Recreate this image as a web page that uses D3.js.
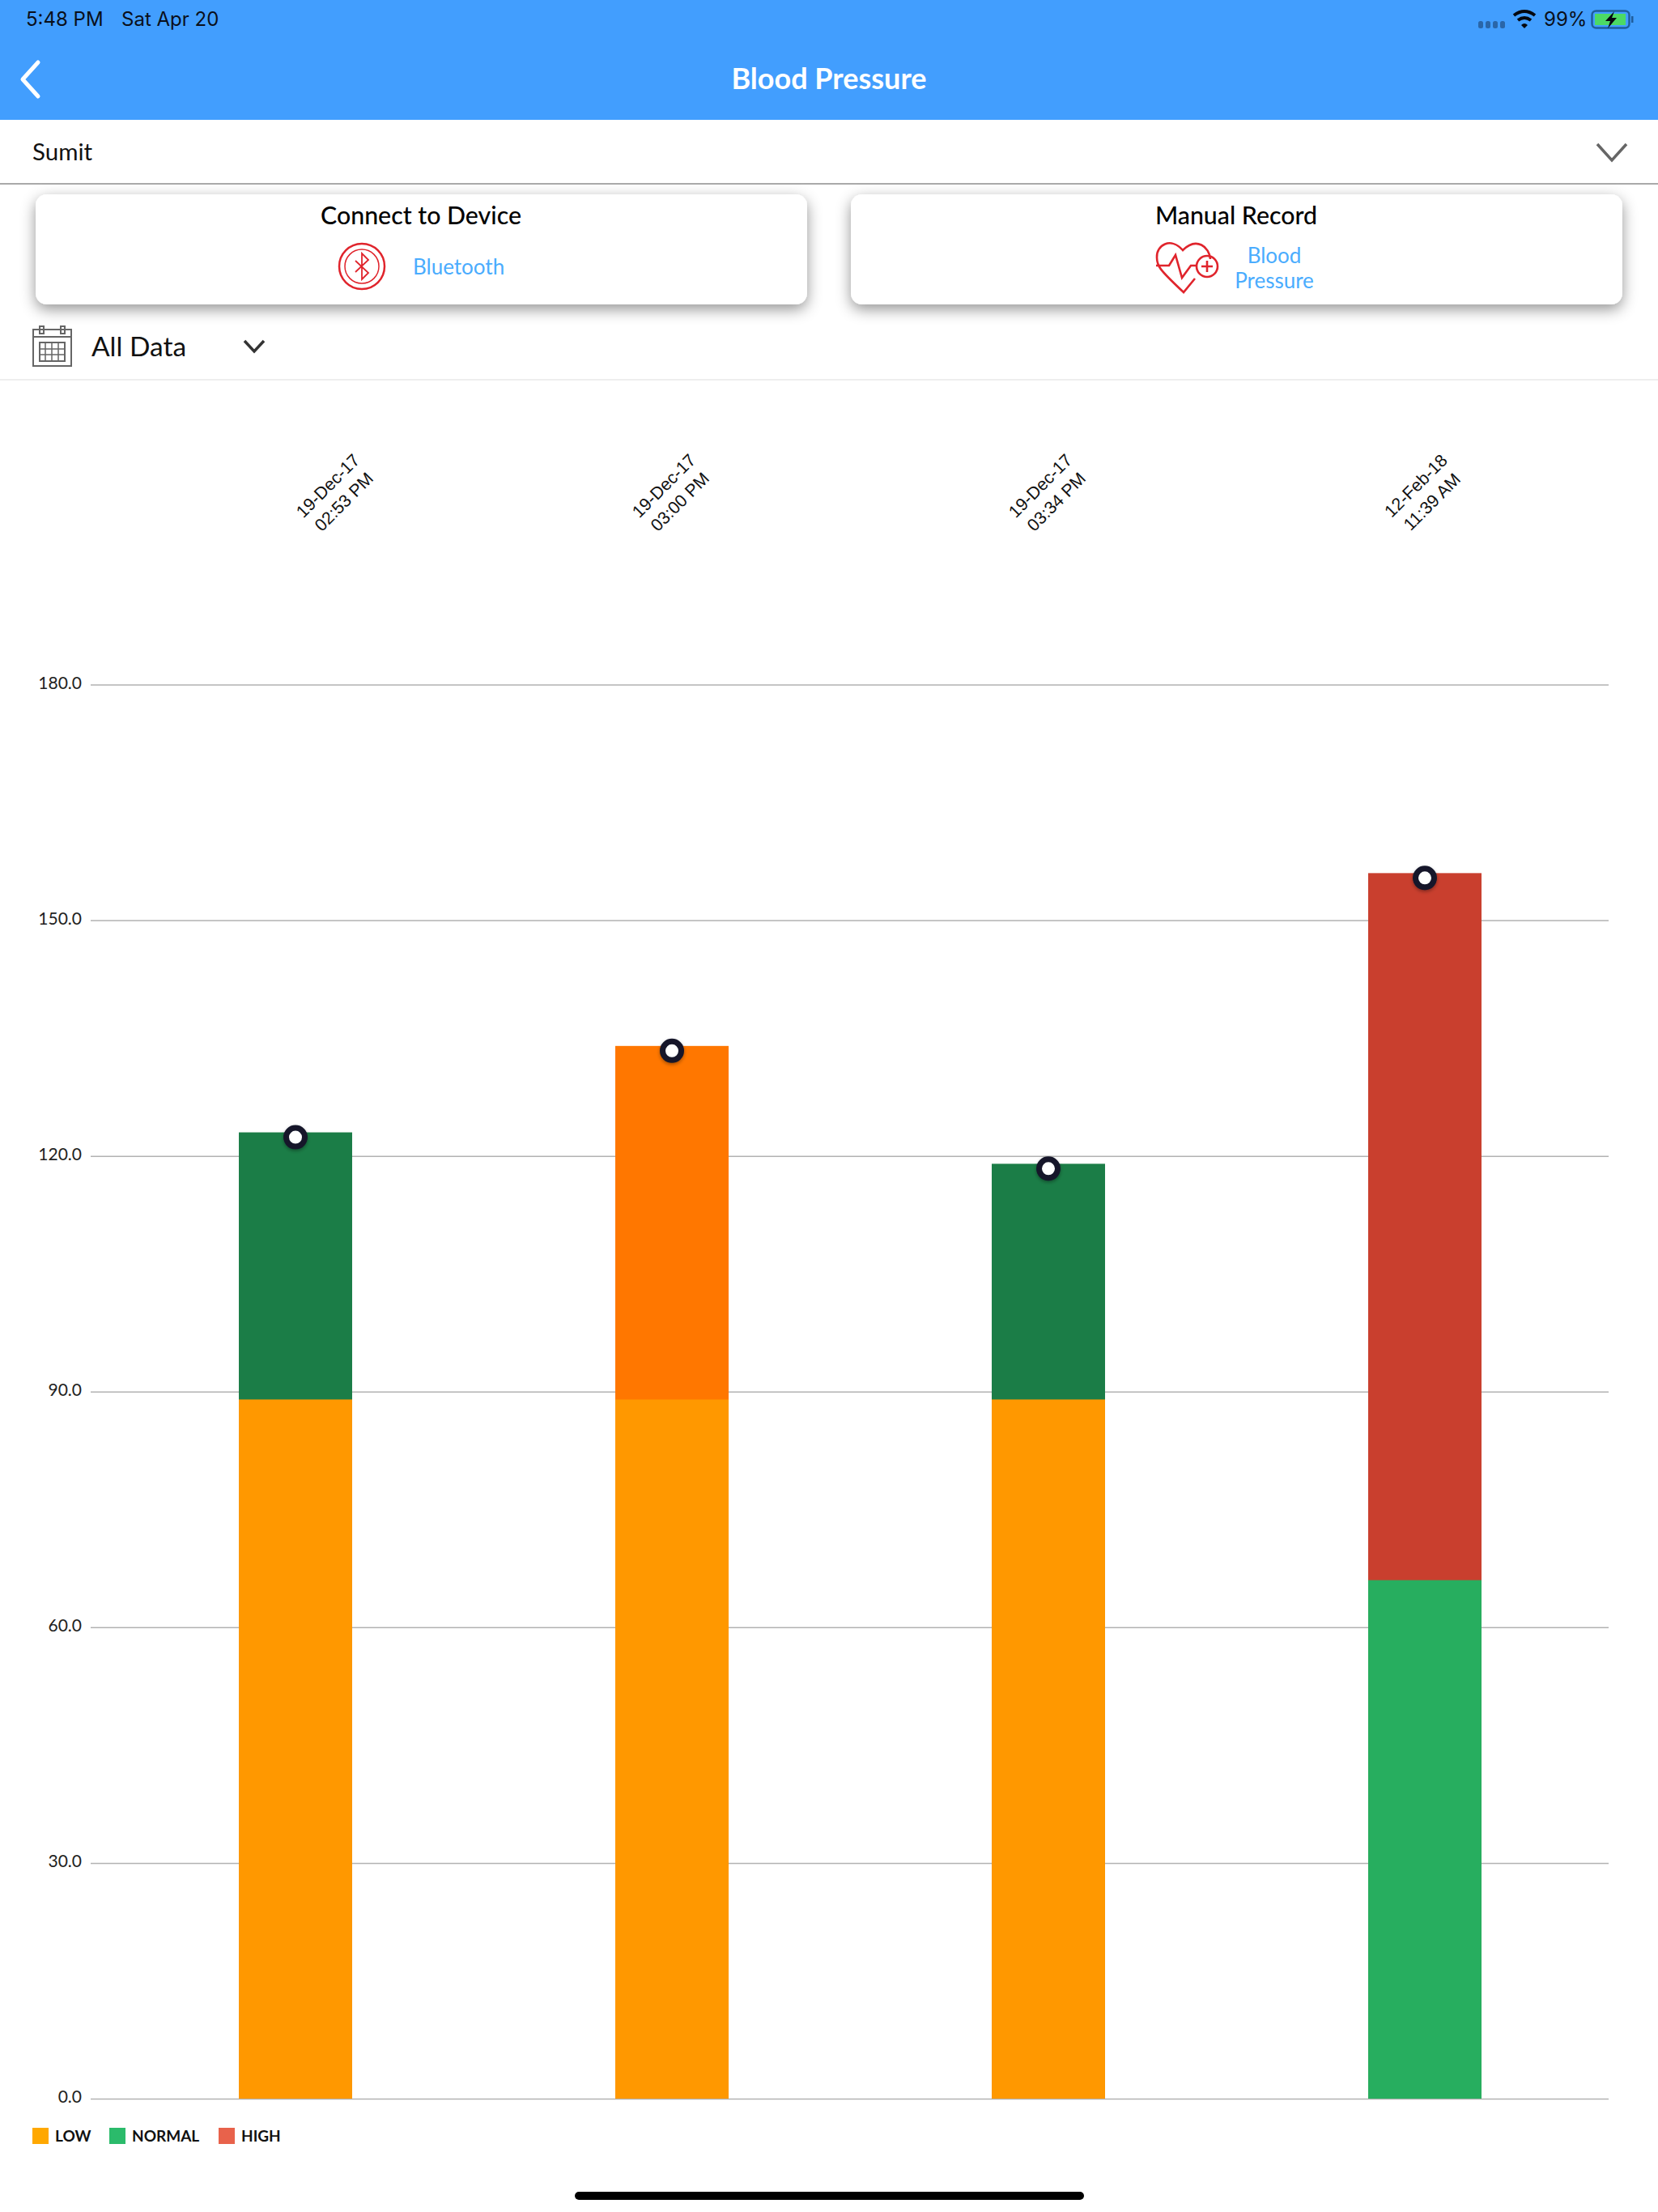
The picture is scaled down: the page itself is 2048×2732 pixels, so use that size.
<!DOCTYPE html>
<html><head><meta charset="utf-8">
<script src="https://cdn.jsdelivr.net/npm/d3@7"></script>
<style>
html,body{margin:0;padding:0;background:#fff}
svg{display:block}
.ui{font-family:Lato,sans-serif}
.status{font-family:Inter,sans-serif;font-size:24px;fill:#0a0f1a}
</style></head><body>
<script>
const categories = ["19-Dec-17|02:53 PM","19-Dec-17|03:00 PM","19-Dec-17|03:34 PM","12-Feb-18|11:39 AM"];
const diastolic = [89,89,89,66];
const systolic = [123,134,119,156];
const diastolicColors = ["#ff9800","#ff9800","#ff9800","#27ae5f"];
const systolicColors = ["#1b7d47","#ff7700","#1b7d47","#c93f2e"];
const yTicks = [0,30,60,90,120,150,180];
const legendNames = ["LOW","NORMAL","HIGH"];
const legendColors = ["#ffa800","#2bbb6b","#e8624b"];

const W=2048,H=2732;
const svg=d3.select("body").append("svg").attr("width",W).attr("height",H).attr("viewBox",`0 0 ${W} ${H}`);
const defs=svg.append("defs");
const sh=defs.append("filter").attr("id","cardShadow").attr("x","-5%").attr("y","-30%").attr("width","110%").attr("height","160%");
sh.append("feDropShadow").attr("dx",0).attr("dy",6).attr("stdDeviation",9).attr("flood-color","#000").attr("flood-opacity",0.42);
const ds=defs.append("filter").attr("id","dotShadow").attr("x","-50%").attr("y","-50%").attr("width","200%").attr("height","200%");
ds.append("feDropShadow").attr("dx",0).attr("dy",2).attr("stdDeviation",2).attr("flood-color","#000").attr("flood-opacity",0.35);

// ---- app chrome
const ui=svg.append("g").attr("class","ui");
ui.append("rect").attr("width",W).attr("height",148).attr("fill","#429efe");
ui.append("text").attr("class","status").attr("x",32).attr("y",32).text("5:48 PM");
ui.append("text").attr("class","status").attr("x",150).attr("y",32).text("Sat Apr 20");
ui.append("text").attr("class","status").attr("x",1907).attr("y",32).text("99%");
[1829,1838,1847,1856].forEach(x=>ui.append("rect").attr("x",x-3).attr("y",26).attr("width",6).attr("height",9).attr("rx",2.5).attr("fill","#2a66a8"));
const wifi=ui.append("g").attr("transform","translate(1883,34)").attr("fill","none").attr("stroke","#05080f").attr("stroke-width",4);
wifi.append("path").attr("d","M-13,-15 Q0,-25 13,-15");
wifi.append("path").attr("d","M-8,-9 Q0,-15 8,-9");
wifi.append("path").attr("d","M-4,-3 L0,1 L4,-3 Q0,-7 -4,-3Z").attr("fill","#05080f").attr("stroke","none");
ui.append("rect").attr("x",1966.5).attr("y",13.5).attr("width",46).attr("height",21).attr("rx",5).attr("fill","none").attr("stroke","#1f5d9c").attr("stroke-width",2.5);
ui.append("rect").attr("x",1970).attr("y",17).attr("width",38).attr("height",14).attr("fill","#4cd964");
ui.append("rect").attr("x",2015).attr("y",20).attr("width",2.5).attr("height",8).attr("fill","#1f5d9c");
ui.append("path").attr("d","M1994,14 L1983,26 L1989,26 L1986,35 L1997,22 L1991,22Z").attr("fill","#05080f");
ui.append("path").attr("d","M47,77 L28,98 L47,119").attr("fill","none").attr("stroke","#fff").attr("stroke-width",5).attr("stroke-linecap","round").attr("stroke-linejoin","round");
ui.append("text").attr("x",1024).attr("y",110).attr("text-anchor","middle").attr("font-size",36).attr("font-weight",700).attr("fill","#fff").text("Blood Pressure");
ui.append("text").attr("x",40).attr("y",198).attr("font-size",29.5).attr("fill","#111").text("Sumit");
ui.append("path").attr("d","M1973,178 L1991,198 L2009,178").attr("fill","none").attr("stroke","#666").attr("stroke-width",3.5);
ui.append("rect").attr("x",0).attr("y",226).attr("width",W).attr("height",2).attr("fill","#aaa");
[[44,953],[1051,953]].forEach(([x,w])=>ui.append("rect").attr("x",x).attr("y",240).attr("width",w).attr("height",136).attr("rx",14).attr("fill","#fff").attr("filter","url(#cardShadow)"));
ui.append("text").attr("x",520).attr("y",277).attr("text-anchor","middle").attr("font-size",30.3).attr("font-weight",500).attr("fill","#000").text("Connect to Device");
ui.append("text").attr("x",1527).attr("y",277).attr("text-anchor","middle").attr("font-size",30.3).attr("font-weight",500).attr("fill","#000").text("Manual Record");
const bt=ui.append("g").attr("transform","translate(447,329)").attr("fill","none").attr("stroke","#e0242c");
bt.append("circle").attr("r",28).attr("stroke-width",2.5);
bt.append("circle").attr("r",21).attr("stroke-width",1.5);
bt.append("path").attr("d","M-8,-7 L8,8 L0,16 L0,-16 L8,-8 L-8,7").attr("stroke-width",1.8);
ui.append("text").attr("x",510).attr("y",339).attr("font-size",26).attr("fill","#4aacfe").text("Bluetooth");
const ht=ui.append("g").attr("transform","translate(1464,329)").attr("fill","none").attr("stroke","#e0242c").attr("stroke-width",2.6);
ht.append("path").attr("d","M31,-9 C30,-24 14,-37 -3,-20 C-18,-37 -36,-26 -35,-11 C-35,-1 -33,3 -2,32 L12,15");
ht.append("path").attr("d","M-36,-1 H-20 L-12,-14 L-4,14 L7,-1 H14");
ht.append("circle").attr("cx",27).attr("cy",0).attr("r",13);
ht.append("path").attr("d","M20,0 H34 M27,-7 V7");
ui.append("text").attr("x",1574).attr("y",325).attr("text-anchor","middle").attr("font-size",26).attr("fill","#4aacfe").text("Blood");
ui.append("text").attr("x",1574).attr("y",356).attr("text-anchor","middle").attr("font-size",26).attr("fill","#4aacfe").text("Pressure");
const cal=ui.append("g").attr("fill","none").attr("stroke","#666").attr("stroke-width",2);
cal.append("rect").attr("x",41).attr("y",407).attr("width",47).attr("height",45);
cal.append("path").attr("d","M41,416 H88");
cal.append("rect").attr("x",49).attr("y",403).attr("width",5).attr("height",9);
cal.append("rect").attr("x",75).attr("y",403).attr("width",5).attr("height",9);
cal.append("rect").attr("x",49).attr("y",423).attr("width",31).attr("height",23);
cal.append("path").attr("d","M49,431 H80 M49,438 H80 M56,423 V446 M64,423 V446 M72,423 V446").attr("stroke-width",1.5);
ui.append("text").attr("x",113).attr("y",440).attr("font-size",33.5).attr("fill","#111").text("All Data");
ui.append("path").attr("d","M302,421 L314,434 L326,421").attr("fill","none").attr("stroke","#333").attr("stroke-width",3.5);
ui.append("rect").attr("x",0).attr("y",468).attr("width",W).attr("height",2).attr("fill","#eee");
ui.append("rect").attr("x",710).attr("y",2707).attr("width",629).attr("height",10).attr("rx",5).attr("fill","#000");

// ---- chart
const y=d3.scaleLinear().domain([0,180]).range([2592,845.5]);
const x=d3.scaleBand().domain(categories).range([132.5,1992.5]).paddingInner(0.699).paddingOuter(0.3495);
const chart=svg.append("g");

const yAxis=d3.axisLeft(y).tickValues(yTicks).tickFormat(d3.format(".1f")).tickSize(-(1987-112)).tickPadding(11);
const ya=chart.append("g").attr("transform","translate(112,0)").call(yAxis);
ya.select(".domain").remove();
ya.selectAll("line").attr("stroke","#b2b2b2").attr("stroke-width",1.5);
ya.selectAll("text").attr("font-family","Lato,sans-serif").attr("font-size",21).attr("fill","#222").attr("dy","0.22em");

chart.selectAll("rect.top").data(categories).join("rect").attr("class","top")
  .attr("x",d=>x(d)).attr("width",x.bandwidth())
  .attr("y",(d,i)=>y(systolic[i])).attr("height",(d,i)=>y(0)-y(systolic[i]))
  .attr("fill",(d,i)=>systolicColors[i]);
chart.selectAll("rect.bottom").data(categories).join("rect").attr("class","bottom")
  .attr("x",d=>x(d)).attr("width",x.bandwidth())
  .attr("y",(d,i)=>y(diastolic[i])).attr("height",(d,i)=>y(0)-y(diastolic[i]))
  .attr("fill",(d,i)=>diastolicColors[i]);

const dotDrop=6;
chart.selectAll("circle.pt").data(categories).join("circle").attr("class","pt")
  .attr("cx",d=>x(d)+x.bandwidth()/2).attr("cy",(d,i)=>y(systolic[i])+dotDrop)
  .attr("r",11.5).attr("fill","#fff").attr("stroke","#14182a").attr("stroke-width",7).attr("filter","url(#dotShadow)");

const labelNudge=[48,-2,-2,-3];
const lab=chart.selectAll("g.xl").data(categories).join("g").attr("class","xl")
  .attr("transform",(d,i)=>`translate(${x(d)+x.bandwidth()/2+labelNudge[i]},608) rotate(-45)`);
lab.append("text").attr("text-anchor","middle").attr("font-family","'Liberation Sans',sans-serif").attr("font-size",21.5).attr("fill","#111").attr("y",-4).text(d=>d.split("|")[0]);
lab.append("text").attr("text-anchor","middle").attr("font-family","'Liberation Sans',sans-serif").attr("font-size",21.5).attr("fill","#111").attr("y",24).text(d=>d.split("|")[1]);

const legendOffsets=[40,135,270];
const lg=chart.selectAll("g.lg").data(legendNames).join("g").attr("class","lg").attr("transform",(d,i)=>`translate(${legendOffsets[i]},2628)`);
lg.append("rect").attr("width",20).attr("height",20).attr("fill",(d,i)=>legendColors[i]);
lg.append("text").attr("x",28).attr("y",17).attr("font-family","Lato,sans-serif").attr("font-size",19).attr("font-weight",700).attr("fill","#111").text(d=>d);
</script>
</body></html>
